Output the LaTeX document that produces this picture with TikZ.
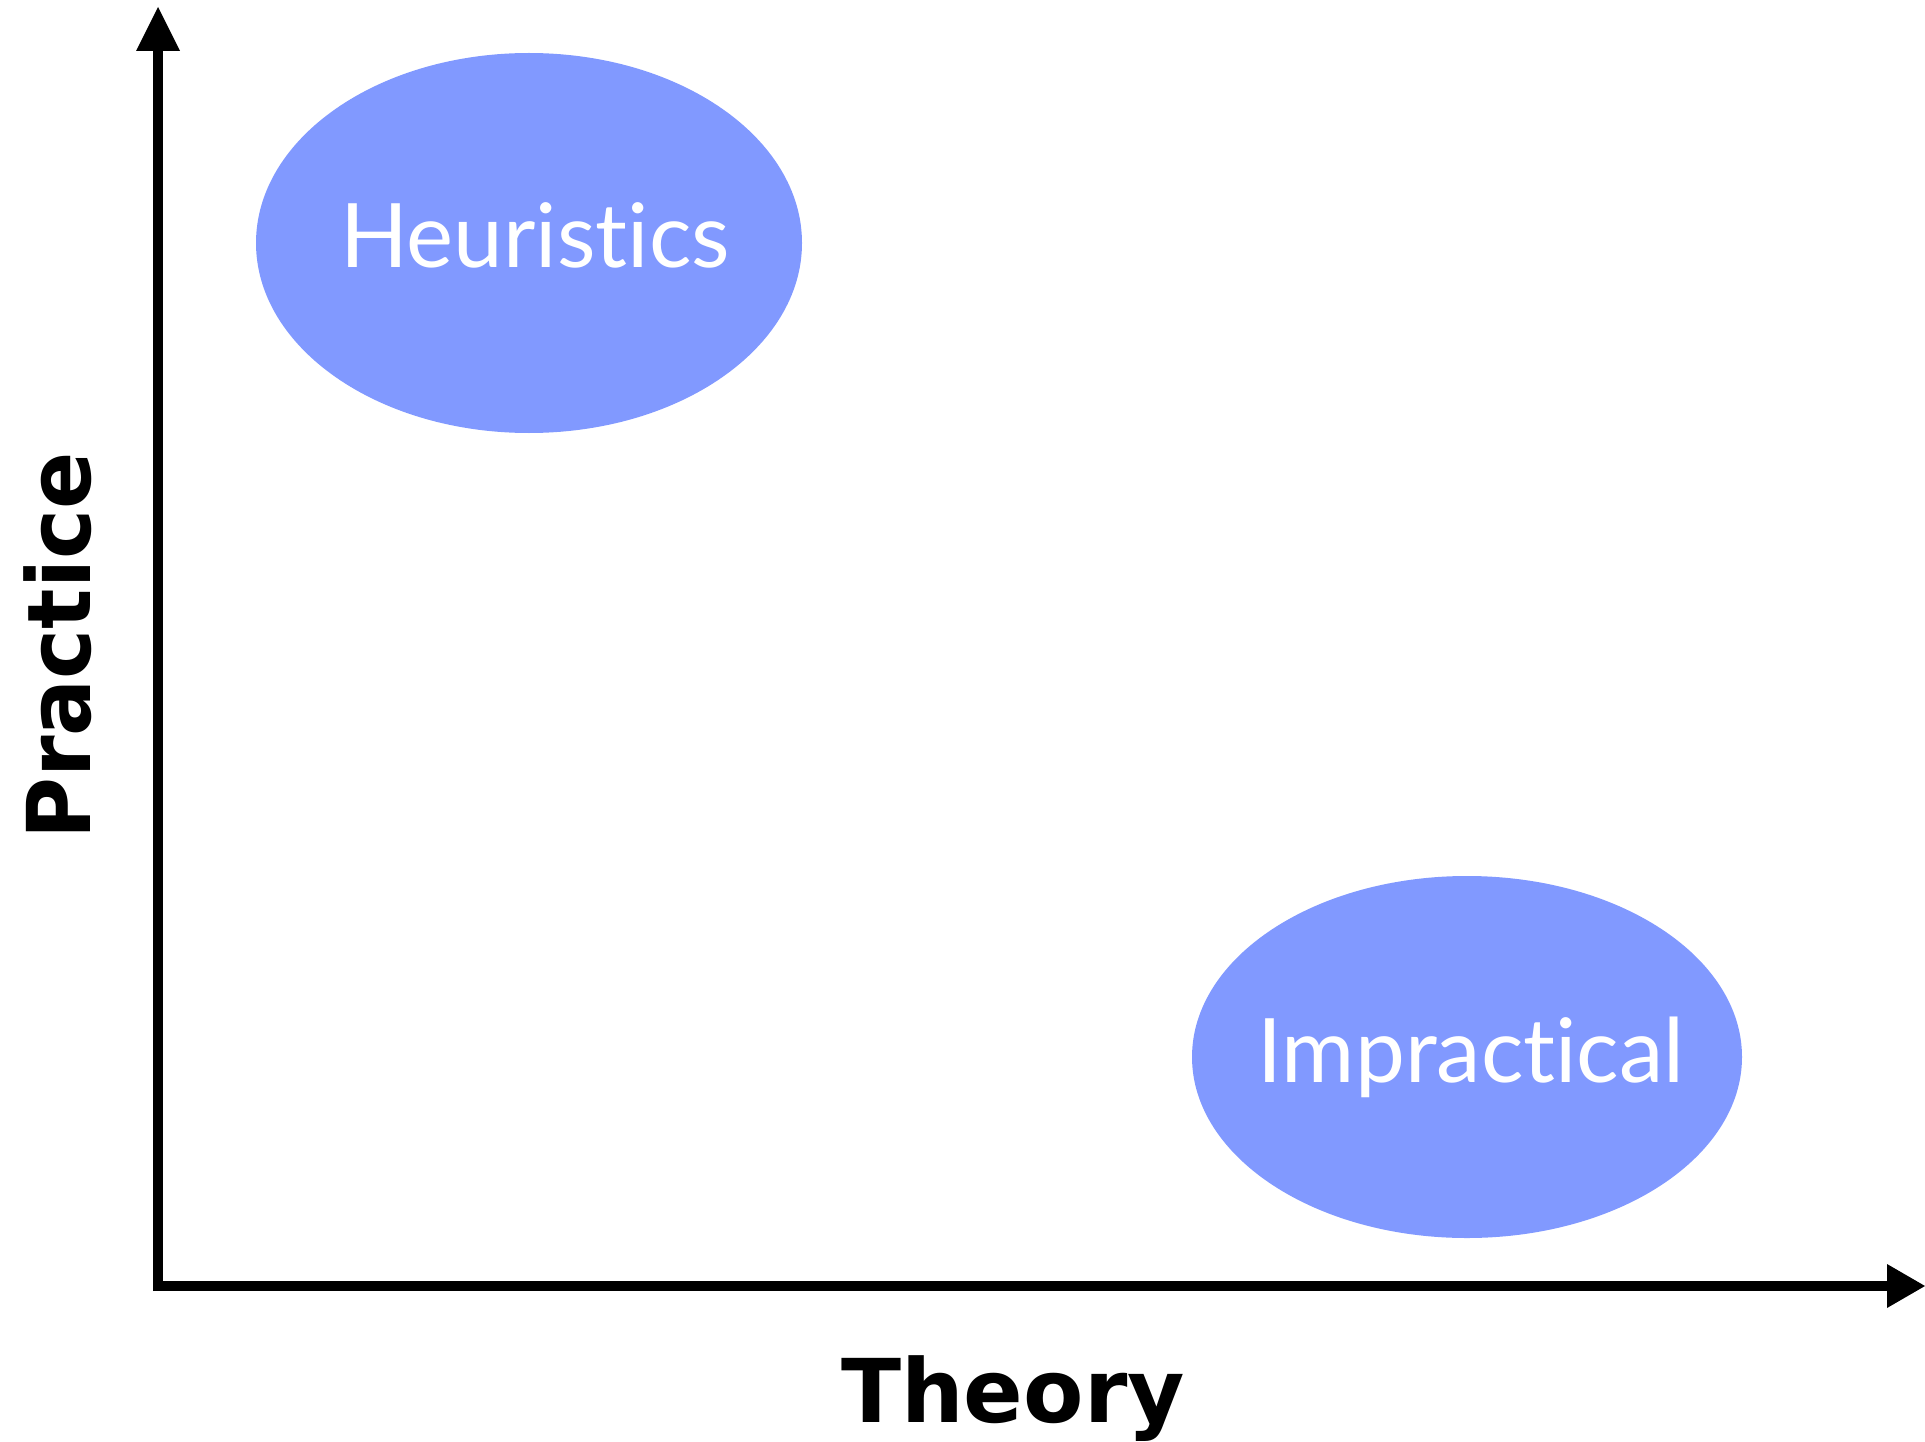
\documentclass[tikz,border=0pt]{standalone}
\usepackage{fontspec}
\setmainfont{Lato}[Ligatures={NoCommon,NoRare,NoDiscretionary}]
\newfontfamily\axisfont{DejaVu Sans}
\definecolor{blobblue}{RGB}{129,153,255}
\begin{document}
\begin{tikzpicture}[x=1pt,y=-1pt,
  bubbletext/.style={text=white, font=\fontsize{89}{89}\selectfont, anchor=base, inner sep=0pt},
  axislabel/.style={font=\axisfont\bfseries\fontsize{88}{88}\selectfont, anchor=base, inner sep=0pt},
  axisline/.style={line width=10pt},
  tip/.style={fill=black}]
\useasboundingbox (0,0) rectangle (1925,1442);
% ellipses
\fill[blobblue] (529,243) ellipse [x radius=273, y radius=190];
\fill[blobblue] (1467,1057) ellipse [x radius=275, y radius=181];
\node[bubbletext] (heur) at (535,268) {Heuristics};
\node[bubbletext] (impr) at (1471,1082) {Impractical};
% axes
\coordinate (origin) at (158,1286);
\coordinate (ytop) at (158,51);
\coordinate (xend) at (1887,1286);
\draw[axisline] (158,1291) -- (ytop);
\draw[axisline] (153,1286) -- (xend);
\fill[tip] (136,51) -- (158,7) -- (180,51) -- cycle;
\fill[tip] (1887,1264) -- (1925,1286) -- (1887,1308) -- cycle;
% labels
\node[axislabel] (theory) at (1013,1422) {Theory};
\node[axislabel, rotate=90] (practice) at (90,646) {\scalebox{0.96}[1]{Practice}};
\end{tikzpicture}
\end{document}
